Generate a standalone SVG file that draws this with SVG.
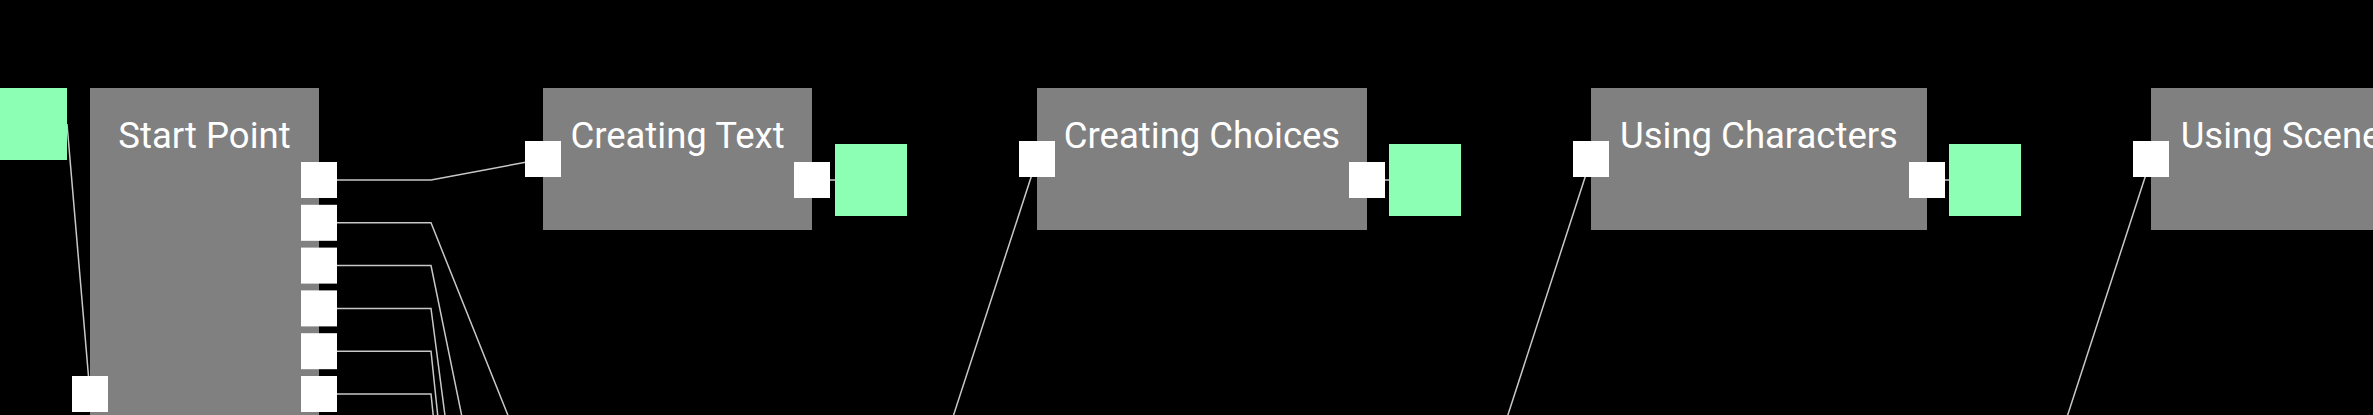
<svg xmlns="http://www.w3.org/2000/svg" width="2373" height="415" viewBox="0 0 2373 415">
<style>
.bg{fill:#000}
.box{fill:#808080}
.port{fill:#fff}
.out{fill:#8cffb4}
.lbl{font-family:Roboto,"Liberation Sans",sans-serif;font-size:36.5px;fill:#fff;text-anchor:middle}
.wire{fill:none;stroke:#c8c8c8;stroke-width:1.5}
</style>
<rect class="bg" x="0" y="0" width="2373" height="415"/>
<g id="connectors">
<path class="wire" d="M67,124 L90,394"/>
<path class="wire" d="M319,180 L431,180 L543,159"/>
<path class="wire" d="M319,222.8 L431,222.8 L541.8,500"/>
<path class="wire" d="M319,265.6 L431,265.6 L479,500"/>
<path class="wire" d="M319,308.4 L431,308.4 L456,500"/>
<path class="wire" d="M319,351.2 L431,351.2 L446.6,500"/>
<path class="wire" d="M319,394 L431,394 L442,500"/>
<path class="wire" d="M812,180 L871,180"/>
<path class="wire" d="M1037,159 L925.9,500"/>
<path class="wire" d="M1367,180 L1425,180"/>
<path class="wire" d="M1591,159 L1480.3,500"/>
<path class="wire" d="M1927,180 L1985,180"/>
<path class="wire" d="M2151,159 L2040,500"/>
</g>
<g id="node-start-out">
<rect class="out" x="-5" y="88" width="72" height="72"/>
</g>
<g id="node-start-point">
<rect class="box" x="90" y="88" width="229" height="340"/>
<text class="lbl" x="204.5" y="147.5">Start Point</text>
<rect class="port" x="72" y="376" width="36" height="36"/>
<rect class="port" x="301" y="162" width="36" height="36"/>
<rect class="port" x="301" y="204.8" width="36" height="36"/>
<rect class="port" x="301" y="247.6" width="36" height="36"/>
<rect class="port" x="301" y="290.4" width="36" height="36"/>
<rect class="port" x="301" y="333.2" width="36" height="36"/>
<rect class="port" x="301" y="376" width="36" height="36"/>
</g>
<g id="node-creating-text">
<rect class="box" x="543" y="88" width="269" height="142"/>
<text class="lbl" x="677.5" y="147.5">Creating Text</text>
<rect class="port" x="525" y="141" width="36" height="36"/>
<rect class="port" x="794" y="162" width="36" height="36"/>
<rect class="out" x="835" y="144" width="72" height="72"/>
</g>
<g id="node-creating-choices">
<rect class="box" x="1037" y="88" width="330" height="142"/>
<text class="lbl" x="1202" y="147.5">Creating Choices</text>
<rect class="port" x="1019" y="141" width="36" height="36"/>
<rect class="port" x="1349" y="162" width="36" height="36"/>
<rect class="out" x="1389" y="144" width="72" height="72"/>
</g>
<g id="node-using-characters">
<rect class="box" x="1591" y="88" width="336" height="142"/>
<text class="lbl" x="1759" y="147.5">Using Characters</text>
<rect class="port" x="1573" y="141" width="36" height="36"/>
<rect class="port" x="1909" y="162" width="36" height="36"/>
<rect class="out" x="1949" y="144" width="72" height="72"/>
</g>
<g id="node-using-scenes">
<rect class="box" x="2151" y="88" width="279" height="142"/>
<text class="lbl" x="2290.5" y="147.5">Using Scenes</text>
<rect class="port" x="2133" y="141" width="36" height="36"/>
</g>
</svg>
